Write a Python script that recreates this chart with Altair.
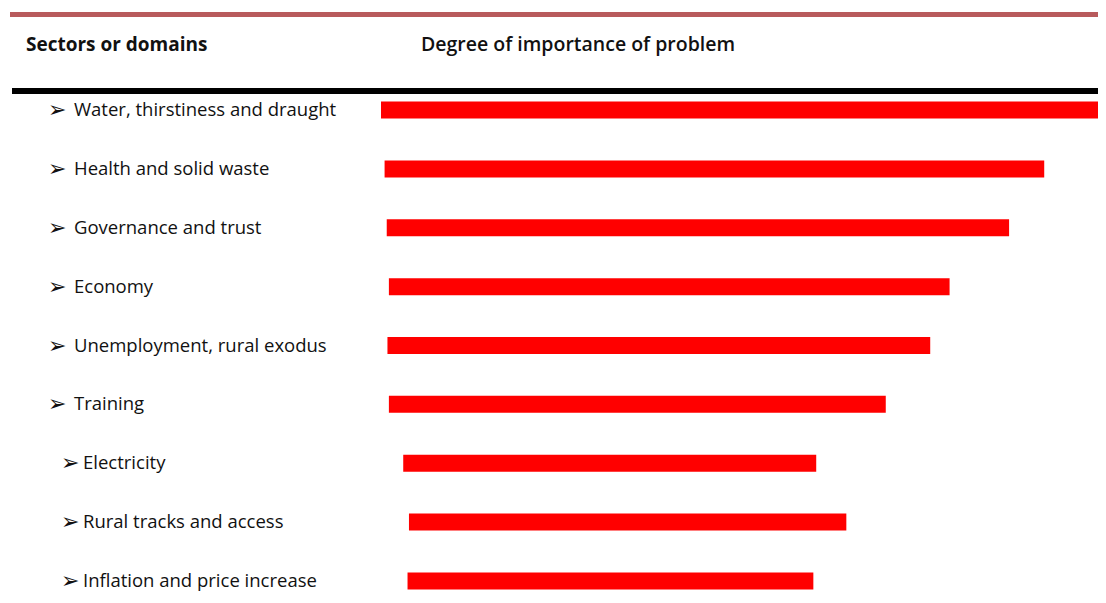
import altair as alt
import pandas as pd

sectors = [
    "Water, thirstiness and draught",
    "Health and solid waste",
    "Governance and trust",
    "Economy",
    "Unemployment, rural exodus",
    "Training",
    "Electricity",
    "Rural tracks and access",
    "Inflation and price increase",
]
bar_start = [0.0, 0.5, 0.8, 1.1, 0.9, 1.1, 3.1, 3.9, 3.7]
importance = [100.0, 92.5, 87.6, 79.3, 76.6, 70.4, 60.7, 64.9, 60.3]

header_left = "Sectors or domains"
header_right = "Degree of importance of problem"
bullet = "\u27a2"

df = pd.DataFrame({"sector": sectors, "start": bar_start, "value": importance})
df_a = df.iloc[:6]
df_b = df.iloc[6:]

FONT = "Open Sans"
W, H = 1090, 587

yenc = alt.Y("sector:N", sort=sectors, axis=None,
             scale=alt.Scale(range=[72.6, 602.4], paddingInner=0, paddingOuter=0))
xscale = alt.Scale(domain=[0, 100], range=[373, 1090])

base = alt.Chart(df)

bars = base.mark_bar(color="#ff0000", size=17).encode(
    x=alt.X("start:Q", scale=xscale, axis=None),
    x2="value:Q",
    y=yenc,
)

def labels(d, xb, xt):
    c = alt.Chart(d)
    arr = c.mark_text(align="left", baseline="middle", font="DejaVu Sans",
                      fontSize=22, color="#111111").encode(
        x=alt.value(xb), y=yenc, text=alt.value(bullet))
    lab = c.mark_text(align="left", baseline="middle", font=FONT,
                      fontSize=18.5, color="#111111").encode(
        x=alt.value(xt), y=yenc, text="sector:N")
    return arr + lab

lab_a = labels(df_a, 40, 66)
lab_b = labels(df_b, 53, 75)

top_rule = alt.Chart(pd.DataFrame({"k": [0]})).mark_rule(
    color="#b85a5c", strokeWidth=5).encode(
    x=alt.value(2), x2=alt.value(1100), y=alt.value(6.5))
black_rule = alt.Chart(pd.DataFrame({"k": [0]})).mark_rule(
    color="#000000", strokeWidth=6).encode(
    x=alt.value(4), x2=alt.value(1100), y=alt.value(83))

hdr_l = alt.Chart(pd.DataFrame({"t": [header_left]})).mark_text(
    align="left", baseline="middle", font=FONT, fontSize=19, fontWeight="bold",
    color="#111111").encode(x=alt.value(18), y=alt.value(37), text="t:N")
hdr_r = alt.Chart(pd.DataFrame({"t": [header_right]})).mark_text(
    align="left", baseline="middle", font=FONT, fontSize=19.5, fontWeight=600,
    color="#111111").encode(x=alt.value(413), y=alt.value(37), text="t:N")

chart = alt.layer(top_rule, black_rule, hdr_l, hdr_r, bars, lab_a, lab_b).properties(
    width=W, height=H, padding=0, autosize=alt.AutoSizeParams(type="none"),
    background="#ffffff",
).configure_view(stroke=None)

chart.save("out.html", embed_options={"renderer": "svg", "actions": False})
